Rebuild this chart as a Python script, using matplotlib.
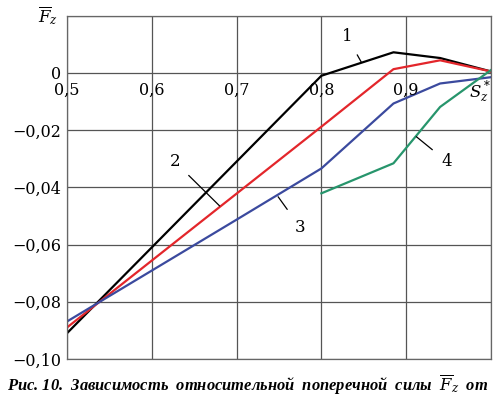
import matplotlib
matplotlib.use("Agg")
import matplotlib.pyplot as plt

plt.rcParams['font.family'] = ['DejaVu Serif']
plt.rcParams['mathtext.fontset'] = 'dejavuserif'

# curve data
x1 = [0.5, 0.6, 0.7, 0.8, 0.885, 0.94, 1.0]
y1 = [-0.091, -0.061, -0.031, -0.001, 0.0072, 0.0052, 0.0005]
x2 = [0.5, 0.6, 0.7, 0.8, 0.885, 0.94, 1.0]
y2 = [-0.089, -0.0656, -0.0422, -0.0188, 0.0013, 0.0044, 0.0005]
x3 = [0.5, 0.6, 0.7, 0.8, 0.885, 0.94, 1.0]
y3 = [-0.0869, -0.0691, -0.0513, -0.0334, -0.0107, -0.0037, -0.0015]
x4 = [0.8, 0.885, 0.94, 1.0]
y4 = [-0.0421, -0.0316, -0.0119, 0.001]

xticks = [0.5, 0.6, 0.7, 0.8, 0.9]
xlabels = ["0,5", "0,6", "0,7", "0,8", "0,9"]
yticks = [0, -0.02, -0.04, -0.06, -0.08, -0.10]
ylabels = ["0", "\u22120,02", "\u22120,04", "\u22120,06", "\u22120,08", "\u22120,10"]

fig = plt.figure(figsize=(4.94, 3.99), dpi=100)
ax = fig.add_axes([0.1356, 0.1003, 0.8583, 0.8604])

ax.plot(x1, y1, color='black', lw=1.6)
ax.plot(x2, y2, color='#e3262b', lw=1.6)
ax.plot(x3, y3, color='#3b4a9e', lw=1.6)
ax.plot(x4, y4, color='#27956c', lw=1.6)

ax.set_xlim(0.5, 1.0)
ax.set_ylim(-0.10, 0.02)
ax.set_xticks([0.5, 0.6, 0.7, 0.8, 0.9, 1.0])
ax.set_xticklabels([])
ax.set_yticks(yticks + [0.02])
ax.set_yticklabels(ylabels + [""], fontsize=11.5)
ax.tick_params(length=0, pad=4)
ax.grid(True, color='#555555', lw=0.9)
for s in ax.spines.values():
    s.set_color('#666666')
    s.set_linewidth(0.9)

for xv, lab in zip(xticks, xlabels):
    ax.text(xv, -0.0062, lab, ha='center', va='center', fontsize=11.5)
ax.text(0.987, -0.0068, r'$S_z^*$', ha='center', va='center', fontsize=12)
fig.text(0.098, 0.96, r'$\overline{F}_z$', ha='center', va='center', fontsize=12)

# curve numbers with leader lines
ax.annotate('1', xy=(0.847, 0.0038), xytext=(0.83, 0.0128), fontsize=12,
            ha='center', va='center',
            arrowprops=dict(arrowstyle='-', color='black', lw=0.9, shrinkA=6, shrinkB=0))
ax.annotate('2', xy=(0.68, -0.0465), xytext=(0.627, -0.031), fontsize=12,
            ha='center', va='center',
            arrowprops=dict(arrowstyle='-', color='black', lw=0.9, shrinkA=6, shrinkB=0))
ax.annotate('3', xy=(0.749, -0.0433), xytext=(0.775, -0.054), fontsize=12,
            ha='center', va='center',
            arrowprops=dict(arrowstyle='-', color='black', lw=0.9, shrinkA=6, shrinkB=0))
ax.annotate('4', xy=(0.912, -0.0223), xytext=(0.948, -0.031), fontsize=12,
            ha='center', va='center',
            arrowprops=dict(arrowstyle='-', color='black', lw=0.9, shrinkA=6, shrinkB=0))

fig.text(0.502, 0.035, r'Рис. 10.  Зависимость  относительной  поперечной  силы  $\overline{F}_z$  от',
         ha='center', va='center', fontsize=11.9, fontweight='bold', fontstyle='italic',
         family='Liberation Serif')

fig.savefig('out.png', dpi=100)
